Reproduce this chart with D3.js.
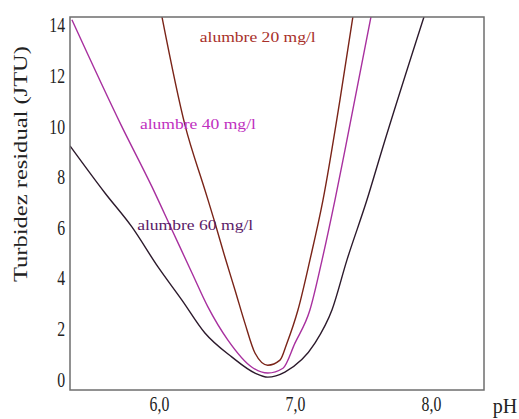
<!DOCTYPE html>
<html>
<head>
<meta charset="utf-8">
<script src="https://cdn.jsdelivr.net/npm/d3@7"></script>
<style>
  body { margin: 0; background: #fff; }
  text { font-family: "Liberation Serif", "DejaVu Serif", serif; }
</style>
</head>
<body>
<div id="d3-container"></div>
<script>
/**
 * CONSTANTS AND GLOBALS
 * */
const width = 519,
  height = 419,
  margin = { top: 17, bottom: 29, left: 70, right: 35 };

/**
 * DATA
 * */
const ph20 = [6.022, 6.191, 6.338, 6.412, 6.485, 6.559, 6.632, 6.706, 6.80, 6.89, 6.941, 7.022, 7.110, 7.206, 7.331, 7.426];
const turb20 = [14.31, 10.04, 7.47, 6.17, 4.82, 3.52, 2.21, 1.03, 0.55, 0.75, 1.42, 2.73, 4.70, 7.07, 11.03, 14.31];

const ph40 = [5.360, 5.721, 5.949, 6.096, 6.243, 6.360, 6.507, 6.684, 6.80, 6.912, 7.0, 7.110, 7.199, 7.294, 7.368, 7.559];
const turb40 = [14.19, 10.04, 7.59, 5.89, 4.19, 2.85, 1.54, 0.47, 0.24, 0.43, 1.42, 2.73, 4.70, 7.07, 9.05, 14.31];

const ph60 = [5.346, 5.603, 5.801, 5.993, 6.169, 6.338, 6.537, 6.706, 6.80, 6.926, 7.147, 7.272, 7.382, 7.529, 7.640, 7.949];
const turb60 = [9.21, 7.35, 6.01, 4.43, 3.12, 1.82, 0.87, 0.24, 0.08, 0.28, 1.42, 2.73, 4.70, 7.07, 9.05, 14.31];

const seriesNames = ["alumbre 20 mg/l", "alumbre 40 mg/l", "alumbre 60 mg/l"];
const yTicks = [0, 2, 4, 6, 8, 10, 12, 14];
const xTicks = [6, 7, 8];

// label anchors, in data units
const labelPh = [6.30, 5.86, 5.84];
const labelTurb = [13.5, 10.04, 6.08];

const lineColors = ["#7a2418", "#a8309f", "#2c1a2c"];
const labelColors = ["#a8302a", "#c030c0", "#5a2068"];

let svg;

init();

function init() {
  const x = d3.scaleLinear([5.346, 8.39], [margin.left, width - margin.right]);
  const y = d3.scaleLinear([-0.43, 14.3], [height - margin.bottom, margin.top]);

  svg = d3.select("#d3-container")
    .append("svg")
    .attr("width", width)
    .attr("height", height);

  svg.append("rect")
    .attr("width", width).attr("height", height)
    .attr("fill", "#fff");

  svg.append("clipPath")
    .attr("id", "plot-clip")
    .append("rect")
    .attr("x", margin.left).attr("y", margin.top)
    .attr("width", width - margin.left - margin.right)
    .attr("height", height - margin.top - margin.bottom);

  const series = [
    { name: seriesNames[0], ph: ph20, turb: turb20 },
    { name: seriesNames[1], ph: ph40, turb: turb40 },
    { name: seriesNames[2], ph: ph60, turb: turb60 }
  ].map(s => ({ name: s.name, points: s.ph.map((p, i) => [p, s.turb[i]]) }));

  const line = d3.line()
    .x(d => x(d[0]))
    .y(d => y(d[1]))
    .curve(d3.curveMonotoneX);

  // curves
  svg.append("g")
    .attr("clip-path", "url(#plot-clip)")
    .selectAll("path.curve")
    .data(series)
    .join("path")
    .attr("class", "curve")
    .attr("d", d => line(d.points))
    .attr("fill", "none")
    .attr("stroke", (d, i) => lineColors[i])
    .attr("stroke-width", 1.4);

  // frame
  svg.append("rect")
    .attr("x", margin.left).attr("y", margin.top)
    .attr("width", width - margin.left - margin.right)
    .attr("height", height - margin.top - margin.bottom)
    .attr("fill", "none")
    .attr("stroke", "#6e6e6e")
    .attr("stroke-width", 1.5);

  // y axis
  const yAxis = svg.append("g")
    .attr("transform", `translate(${margin.left},0)`)
    .call(d3.axisLeft(y).tickValues(yTicks).tickSize(0).tickPadding(0));
  yAxis.select(".domain").remove();
  yAxis.selectAll("text")
    .attr("font-family", "Liberation Serif, serif")
    .attr("font-size", 21)
    .attr("fill", "#222")
    .attr("x", -5 / 0.75)
    .attr("dy", "0.34em")
    .attr("transform", "scale(0.75,1)");

  // x axis
  const xAxis = svg.append("g")
    .attr("transform", `translate(0,${height - margin.bottom})`)
    .call(d3.axisBottom(x).tickValues(xTicks).tickSize(0).tickPadding(0)
      .tickFormat(d => d3.format(".1f")(d).replace(".", ",")));
  xAxis.select(".domain").remove();
  xAxis.selectAll("text")
    .attr("font-family", "Liberation Serif, serif")
    .attr("font-size", 21)
    .attr("fill", "#222")
    .attr("y", 21)
    .attr("dy", 0)
    .attr("x", 0)
    .attr("transform", "scale(0.75,1)");

  svg.append("text")
    .attr("x", 505).attr("y", 413)
    .attr("text-anchor", "middle")
    .attr("font-size", 20)
    .attr("fill", "#222")
    .text("pH");

  svg.append("text")
    .attr("transform", "translate(27,164) rotate(-90)")
    .attr("text-anchor", "middle")
    .attr("font-size", 18)
    .attr("fill", "#222")
    .attr("textLength", 236)
    .attr("lengthAdjust", "spacingAndGlyphs")
    .text("Turbidez residual (JTU)");

  // curve labels
  svg.selectAll("text.curve-label")
    .data(series)
    .join("text")
    .attr("class", "curve-label")
    .attr("x", (d, i) => x(labelPh[i]))
    .attr("y", (d, i) => y(labelTurb[i]))
    .attr("dy", "0.32em")
    .attr("font-size", 14)
    .attr("fill", (d, i) => labelColors[i])
    .attr("textLength", 116)
    .attr("lengthAdjust", "spacingAndGlyphs")
    .text(d => d.name);
}
</script>
</body>
</html>
